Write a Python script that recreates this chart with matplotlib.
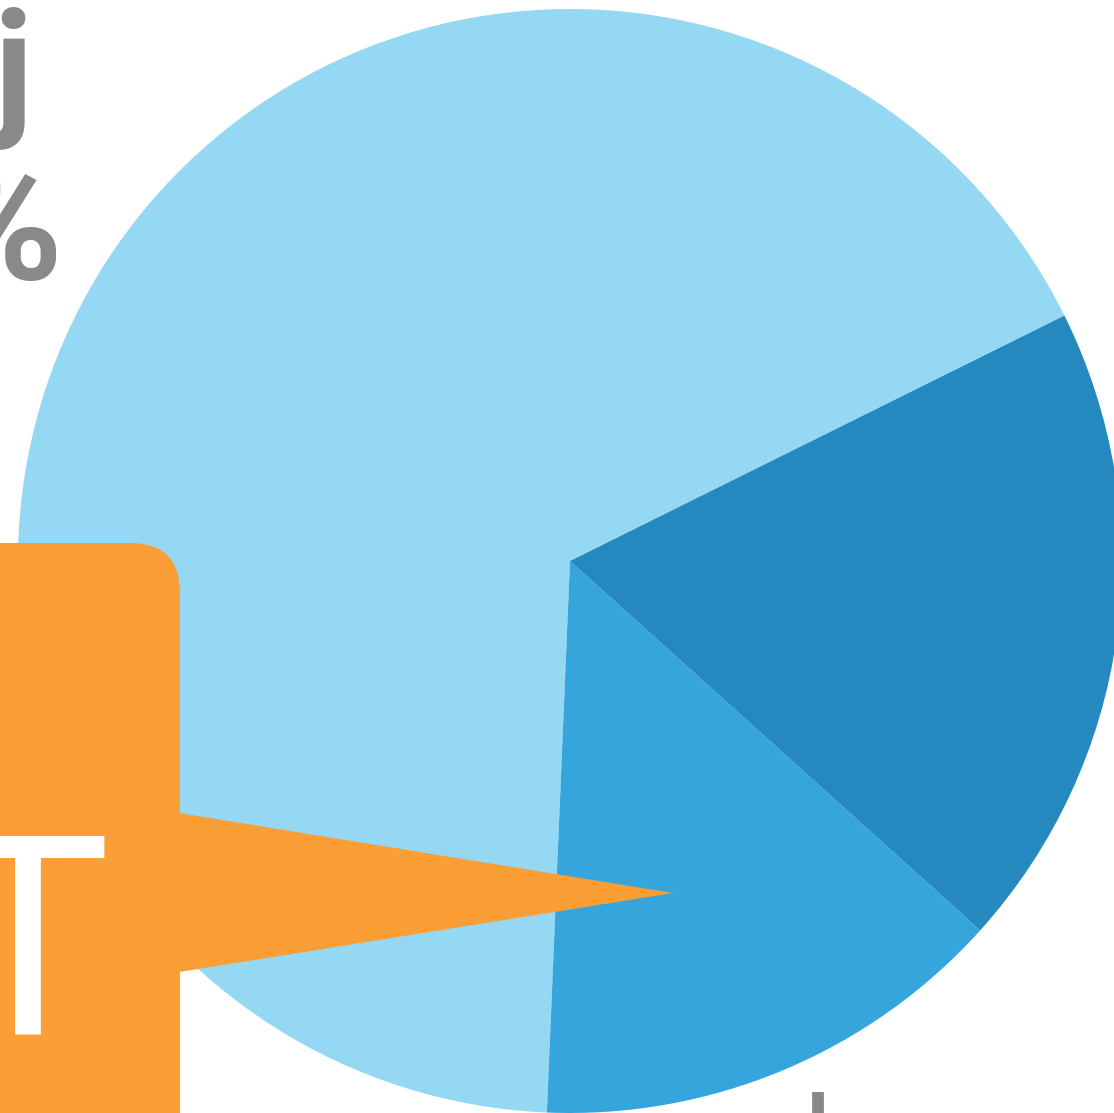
import matplotlib.pyplot as plt
from matplotlib.patches import FancyBboxPatch, Polygon

# pie data (share in %), drawn counter-clockwise from the start angle
labels = ['Other', 'Segment B', 'Segment A']
shares = [67, 14, 19]
colors = ['#95D8F4', '#35A5DB', '#2589C0']

W, H = 1114, 1113
fig = plt.figure(figsize=(W / 100, H / 100), dpi=100)
ax = fig.add_axes([0, 0, 1, 1])


def fy(y):
    # image row -> data y
    return H - y


ax.pie(shares, colors=colors, startangle=26.4, counterclock=True,
       center=(570, fy(561)), radius=552, frame=True,
       wedgeprops=dict(linewidth=0))
ax.set_xlim(0, W)
ax.set_ylim(0, H)
ax.set_aspect('equal')
ax.axis('off')

grey = '#87898B'
orange = '#FB9E35'
font = ['Roboto', 'DejaVu Sans']

# cropped headline text at top left
ax.text(34, fy(118), 'ej', ha='right', va='baseline', fontsize=108,
        fontweight='bold', color=grey, family=font)
ax.text(62, fy(279), '%', ha='right', va='baseline', fontsize=118,
        fontweight='bold', color=grey, family=font)

# orange callout box with pointer
box = FancyBboxPatch((-200, fy(1300)), 380, 1300 - 543,
                     boxstyle='round,pad=0,rounding_size=50',
                     facecolor=orange, edgecolor='none', zorder=3)
ax.add_patch(box)
ptr = Polygon([(179, fy(813)), (673, fy(893)), (179, fy(972))],
              closed=True, facecolor=orange, edgecolor='none', zorder=3)
ax.add_patch(ptr)
ax.text(27, fy(1035), 'T', ha='center', va='baseline', fontsize=200,
        color='white', family=font, zorder=4)

# cropped label at bottom
ax.text(818, fy(1092), 'l', ha='center', va='top', fontsize=60,
        fontweight='bold', color=grey, family=font)

fig.savefig('out.png', dpi=100)
